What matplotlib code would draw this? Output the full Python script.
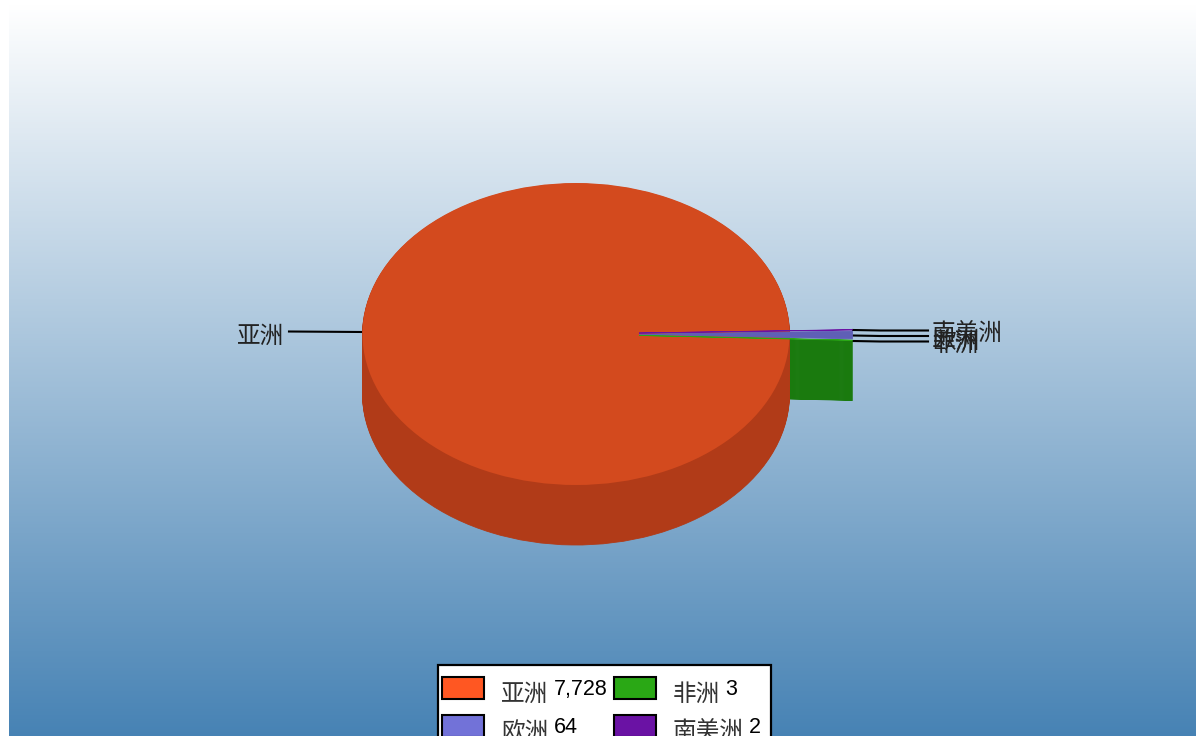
import matplotlib
matplotlib.use("Agg")
import matplotlib.pyplot as plt
from matplotlib.colors import LinearSegmentedColormap
from matplotlib.patches import Circle, Rectangle
import numpy as np

# slices go counter-clockwise from the start angle, Asia takes the rest of the pie
names = ["非洲", "欧洲", "南美洲", "亚洲"]
values = [3, 64, 2, 7728]
top_colors = ["#2aa815", "#5f5fb6", "#6a12a4", "#d34a1e"]
side_colors = ["#1a7a0e", "#4a4a9e", "#4a0c75", "#b13b18"]
legend_colors = ["#ff5722", "#2aa815", "#7272d8", "#6a12a4"]
legend_names = ["亚洲", "非洲", "欧洲", "南美洲"]
legend_values = ["7,728", "3", "64", "2"]

W, H = 1196, 736
cx, cy = 576, 334
rx, ry = 213.5, 151
depth = 60
start_angle = -1.9
explode = [0.295, 0.295, 0.295, 0]

cjk = ["Noto Sans CJK SC", "DejaVu Sans"]
num_font = "Liberation Sans"

fig = plt.figure(figsize=(W / 100, H / 100), dpi=100)

# background, pixel coordinates with y going down
bg = fig.add_axes([0, 0, 1, 1])
cmap = LinearSegmentedColormap.from_list("bg", ["#ffffff", "#4682b4"])
grad = np.linspace(0, 1, 256).reshape(-1, 1)
bg.imshow(grad, cmap=cmap, extent=[9, 1195.5, 740, 4], aspect="auto", zorder=0)
bg.set_xlim(0, W)
bg.set_ylim(H, 0)
bg.axis("off")

# pie axes: unit circle squashed into the ellipse seen in the picture
pie_ax = fig.add_axes([(cx - rx) / W, 1 - (cy + ry) / H, 2 * rx / W, 2 * ry / H])


def draw_pie(dy, colors, which, z):
    # which = indexes of the slices to keep
    wedges, _ = pie_ax.pie(values, colors=colors, startangle=start_angle, counterclock=True,
                           explode=explode, center=(0, -dy / ry), radius=1, normalize=True,
                           wedgeprops=dict(linewidth=0.6))
    for i, w in enumerate(wedges):
        w.set_edgecolor(colors[i])
        w.set_clip_on(False)
        w.set_zorder(z)
        if i not in which:
            w.remove()


for dy in np.arange(depth, 0, -1.0):
    draw_pie(dy, side_colors, [0], 1)
for dy in np.arange(depth, 0, -1.0):
    draw_pie(dy, side_colors, [3], 2)
# the whole top disc, so the gap left by the pulled out slices stays orange
pie_ax.add_patch(Circle((0, 0), 1, facecolor=top_colors[3], edgecolor="none", zorder=3, clip_on=False))
draw_pie(0, top_colors, [0, 2, 1], 4)

pie_ax.set_aspect("auto")
pie_ax.set_xlim(-1, 1)
pie_ax.set_ylim(-1, 1)
pie_ax.axis("off")

# leader lines and labels
line_y = {"非洲": 341.5, "欧洲": 336, "南美洲": 330.5}
text_y = {"非洲": 344, "欧洲": 341, "南美洲": 334}
for n in ["南美洲", "欧洲", "非洲"]:
    bg.plot([853, 880, 928], [line_y[n] - 0.5, line_y[n], line_y[n]], color="black", lw=1.5, zorder=5)
    bg.text(932, text_y[n], n, family=cjk, fontsize=17, color="#222222", ha="left", va="center", zorder=6)
bg.plot([289, 362], [331.5, 332], color="black", lw=1.5, zorder=5)
bg.text(237, 336, "亚洲", family=cjk, fontsize=17, color="#222222", ha="left", va="center", zorder=6)

# legend, runs off the bottom of the picture
bg.add_patch(Rectangle((438, 665), 333, 100, facecolor="white", edgecolor="black", lw=1.6, zorder=7))
col_x = [442, 614]
row_y = [677, 715]
value_x = [554, 725, 554, 749]
for i in range(4):
    x = col_x[i % 2]
    y = row_y[i // 2]
    bg.add_patch(Rectangle((x, y), 42, 22, facecolor=legend_colors[i], edgecolor="black", lw=1.5, zorder=8))
    bg.text(x + 59, y + 17, legend_names[i], family=cjk, fontsize=17, color="#333333", ha="left", va="center", zorder=8)
    bg.text(value_x[i], y + 12.5, legend_values[i], family=num_font, fontsize=15.5, color="black", ha="left", va="center", zorder=8)

fig.savefig("out.png", dpi=100)
